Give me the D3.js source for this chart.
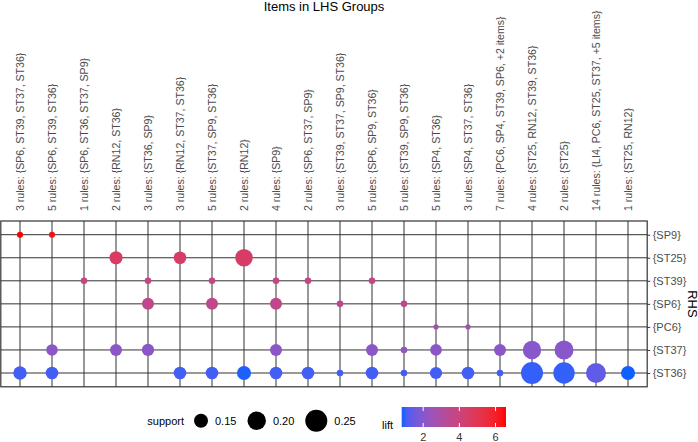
<!DOCTYPE html>
<html><head><meta charset="utf-8">
<script src="https://cdn.jsdelivr.net/npm/d3@7"></script>
<style>body{margin:0;background:#fff}svg{display:block}text{font-family:"Liberation Sans",Arial,sans-serif}</style>
</head><body>
<svg id="c" width="698" height="442"></svg>
<script>
const lhsLabels = [
  "3 rules: {SP6, ST39, ST37, ST36}",
  "5 rules: {SP6, ST39, ST36}",
  "1 rules: {SP6, ST36, ST37, SP9}",
  "2 rules: {RN12, ST36}",
  "3 rules: {ST36, SP9}",
  "3 rules: {RN12, ST37, ST36}",
  "5 rules: {ST37, SP9, ST36}",
  "2 rules: {RN12}",
  "4 rules: {SP9}",
  "2 rules: {SP6, ST37, SP9}",
  "3 rules: {ST39, ST37, SP9, ST36}",
  "5 rules: {SP6, SP9, ST36}",
  "5 rules: {ST39, SP9, ST36}",
  "5 rules: {SP4, ST36}",
  "3 rules: {SP4, ST37, ST36}",
  "7 rules: {PC6, SP4, ST39, SP6, +2 items}",
  "4 rules: {ST25, RN12, ST39, ST36}",
  "2 rules: {ST25}",
  "14 rules: {LI4, PC6, ST25, ST37, +5 items}",
  "1 rules: {ST25, RN12}"
];
const rhsLabels = ["{SP9}", "{ST25}", "{ST39}", "{SP6}", "{PC6}", "{ST37}", "{ST36}"];

// cells: LHS group index (1-based), RHS item, support, lift
const cellLhs = [1, 2,  4, 6, 8,  3, 5, 7, 9, 10, 12,  5, 7, 9, 11, 13,  14, 15,
  2, 4, 5, 9, 12, 13, 14, 16, 17, 18,
  1, 2, 6, 7, 8, 9, 10, 11, 12, 13, 14, 15, 16, 17, 18, 19, 20];
const cellRhs = ["{SP9}", "{SP9}", "{ST25}", "{ST25}", "{ST25}",
  "{ST39}", "{ST39}", "{ST39}", "{ST39}", "{ST39}", "{ST39}",
  "{SP6}", "{SP6}", "{SP6}", "{SP6}", "{SP6}", "{PC6}", "{PC6}",
  "{ST37}", "{ST37}", "{ST37}", "{ST37}", "{ST37}", "{ST37}", "{ST37}", "{ST37}", "{ST37}", "{ST37}",
  "{ST36}", "{ST36}", "{ST36}", "{ST36}", "{ST36}", "{ST36}", "{ST36}", "{ST36}", "{ST36}", "{ST36}",
  "{ST36}", "{ST36}", "{ST36}", "{ST36}", "{ST36}", "{ST36}", "{ST36}"];
const cellSupport = [0.095, 0.095, 0.142, 0.137, 0.189,
  0.097, 0.097, 0.097, 0.097, 0.097, 0.097,
  0.132, 0.132, 0.132, 0.097, 0.097, 0.091, 0.091,
  0.129, 0.132, 0.134, 0.132, 0.132, 0.097, 0.130, 0.132, 0.200, 0.207,
  0.144, 0.137, 0.137, 0.137, 0.150, 0.137, 0.137, 0.097, 0.137, 0.097,
  0.134, 0.137, 0.097, 0.250, 0.241, 0.221, 0.150];
const cellLift = [6.58, 6.4, 4.6, 4.5, 4.5,
  3.9, 3.8, 3.8, 3.8, 3.8, 3.8,
  3.6, 3.6, 3.6, 3.6, 3.6, 2.7, 2.7,
  2.1, 2.1, 2.1, 2.1, 2.1, 2.2, 2.1, 2.1, 2.0, 2.0,
  1.05, 1.05, 1.05, 1.05, 0.85, 1.05, 1.05, 1.05, 1.05, 1.05,
  1.05, 1.05, 1.05, 0.95, 0.95, 1.35, 0.81];

const sizeBreaks = [0.15, 0.20, 0.25];
const liftBreaks = [2, 4, 6];
const liftRange = [0.81, 6.58];

const svg = d3.select("#c");
const panel = {left: 0.8, right: 647.2, top: 221, bottom: 386.8};

const x = d3.scalePoint().domain(d3.range(1, lhsLabels.length + 1)).range([20, 628]);
const y = d3.scalePoint().domain(rhsLabels).range([234.7, 373]);
const color = d3.scaleLinear().domain(liftRange).range(["#1060FF", "#FF0000"]).interpolate(d3.interpolateLab);
const area = d3.scaleLinear().domain([0.15, 0.25]).range([49, 121]);
const r = s => Math.sqrt(Math.max(1, area(s)));

// grid
const g = svg.append("g");
g.selectAll("line.v").data(x.domain()).join("line")
  .attr("x1", d => x(d)).attr("x2", d => x(d))
  .attr("y1", panel.top).attr("y2", panel.bottom)
  .attr("stroke", "#333").attr("stroke-width", 1);
g.selectAll("line.h").data(rhsLabels).join("line")
  .attr("y1", d => y(d)).attr("y2", d => y(d))
  .attr("x1", panel.left).attr("x2", panel.right)
  .attr("stroke", "#333").attr("stroke-width", 1);
g.append("rect").attr("x", panel.left).attr("y", panel.top)
  .attr("width", panel.right - panel.left).attr("height", panel.bottom - panel.top)
  .attr("fill", "none").attr("stroke", "#333").attr("stroke-width", 1.2);

// points
const cells = cellLhs.map((l, i) => ({l, rhs: cellRhs[i], s: cellSupport[i], lift: cellLift[i]}));
svg.append("g").selectAll("circle").data(cells).join("circle")
  .attr("cx", d => x(d.l)).attr("cy", d => y(d.rhs))
  .attr("r", d => r(d.s)).attr("fill", d => color(d.lift));

// top axis
const topAxis = svg.append("g").attr("transform", `translate(0,${panel.top})`)
  .call(d3.axisTop(x).tickSize(0).tickFormat(i => lhsLabels[i - 1]));
topAxis.select(".domain").remove();
topAxis.selectAll("text").attr("transform", "rotate(-90)")
  .attr("x", 10).attr("y", 0).attr("dy", "0.35em")
  .attr("text-anchor", "start").attr("font-size", 10.6).attr("fill", "#4d4d4d")
  .attr("font-family", '"Liberation Sans", Arial, sans-serif');

// right axis
const rightAxis = svg.append("g").attr("transform", `translate(${panel.right},0)`)
  .call(d3.axisRight(y).tickSize(3).tickPadding(2.5));
rightAxis.select(".domain").remove();
rightAxis.selectAll("line").attr("stroke", "#333");
rightAxis.selectAll("text").attr("font-size", 11).attr("fill", "#4d4d4d")
  .attr("font-family", '"Liberation Sans", Arial, sans-serif');

// titles
svg.append("text").attr("x", (panel.left + panel.right) / 2).attr("y", 11)
  .attr("text-anchor", "middle").attr("font-size", 13).text("Items in LHS Groups");
svg.append("text").attr("transform", `translate(687.5,${(panel.top + panel.bottom) / 2}) rotate(90)`)
  .attr("text-anchor", "middle").attr("font-size", 13).text("RHS");

// size legend
const legendX = d3.scaleOrdinal().domain(sizeBreaks).range([201, 256.7, 316.3]);
const sl = svg.append("g");
sl.append("text").attr("x", 184).attr("y", 424.5).attr("text-anchor", "end").attr("font-size", 11).text("support");
sl.selectAll("circle").data(sizeBreaks).join("circle")
  .attr("cx", d => legendX(d)).attr("cy", 420.7).attr("r", d => r(d)).attr("fill", "black");
sl.selectAll("text.l").data(sizeBreaks).join("text").attr("class", "l")
  .attr("x", d => legendX(d) + r(d) + 7).attr("y", 424.5)
  .attr("font-size", 11).text(d => d.toFixed(2));

// color legend
const cb = {x0: 401.7, x1: 506, y0: 407, y1: 427};
const defs = svg.append("defs");
const grad = defs.append("linearGradient").attr("id", "lg");
d3.range(0, 1.0001, 0.05).forEach(t => {
  grad.append("stop").attr("offset", t).attr("stop-color", color(liftRange[0] + t * (liftRange[1] - liftRange[0])));
});
svg.append("rect").attr("x", cb.x0).attr("y", cb.y0).attr("width", cb.x1 - cb.x0).attr("height", cb.y1 - cb.y0)
  .attr("fill", "url(#lg)");
const lx = d3.scaleLinear().domain(liftRange).range([cb.x0, cb.x1]);
const cl = svg.append("g");
liftBreaks.forEach(v => {
  cl.append("line").attr("x1", lx(v)).attr("x2", lx(v)).attr("y1", cb.y0).attr("y2", cb.y0 + 4).attr("stroke", "white").attr("stroke-width", 1);
  cl.append("line").attr("x1", lx(v)).attr("x2", lx(v)).attr("y1", cb.y1 - 4).attr("y2", cb.y1).attr("stroke", "white").attr("stroke-width", 1);
  cl.append("text").attr("x", lx(v)).attr("y", 440.5).attr("text-anchor", "middle").attr("font-size", 11).attr("fill", "#333").text(v);
});
svg.append("text").attr("x", 382).attr("y", 429).attr("font-size", 11).text("lift");
</script>
</body></html>
